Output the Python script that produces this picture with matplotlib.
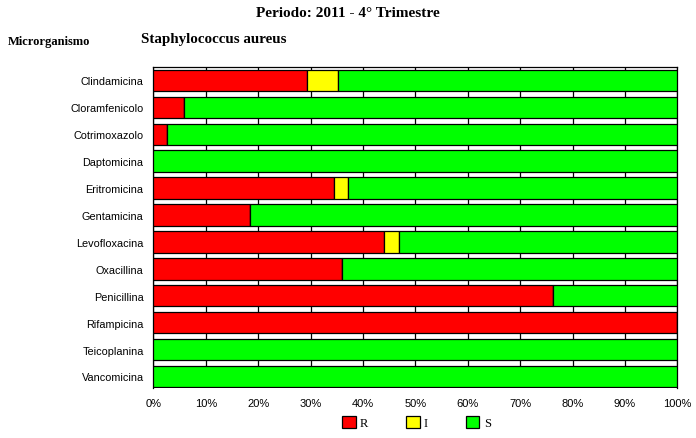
import numpy as np
import matplotlib.pyplot as plt

# antibiotics, top to bottom
farmacos = ['Clindamicina', 'Cloramfenicolo', 'Cotrimoxazolo', 'Daptomicina',
            'Eritromicina', 'Gentamicina', 'Levofloxacina', 'Oxacillina',
            'Penicillina', 'Rifampicina', 'Teicoplanina', 'Vancomicina']
# percentages
res_R = [29.4, 5.8, 2.6, 0.0, 34.4, 18.5, 44.1, 36.1, 76.2, 100.0, 0.0, 0.0]
res_I = [5.9, 0.0, 0.0, 0.0, 2.8, 0.0, 2.7, 0.0, 0.0, 0.0, 0.0, 0.0]
res_S = [64.7, 94.2, 97.4, 100.0, 62.8, 81.5, 53.2, 63.9, 23.8, 0.0, 100.0, 100.0]
x_ticks = np.arange(0, 101, 10)

fig = plt.figure(figsize=(6.96, 4.39), dpi=100)
ax = fig.add_axes([0.2203, 0.1139, 0.7529, 0.7319])

y = np.arange(len(farmacos))
R = np.array(res_R)
I = np.array(res_I)
S = np.array(res_S)

kw = dict(height=0.8, edgecolor='black', linewidth=0.9, zorder=3)
bR = ax.barh(y, R, color='#ff0000', label='R', **kw)
bI = ax.barh(y, I, left=R, color='#ffff00', label='I', **kw)
bS = ax.barh(y, S, left=R + I, color='#00ff00', label='S', **kw)

ax.set_xlim(0, 100)
ax.set_ylim(11.43, -0.513)

ax.set_yticks(y)
ax.set_yticklabels(farmacos, family='Liberation Sans', fontsize=7.8)
ax.set_xticks(x_ticks)
ax.set_xticklabels(['%d%%' % v for v in x_ticks], family='Liberation Sans', fontsize=8)
ax.tick_params(length=0, pad=7)
ax.tick_params(axis='y', pad=7)

# vertical grid shows only in the gaps between bars
ax.xaxis.grid(True, color='black', linewidth=0.9, zorder=0)
ax.set_axisbelow(True)
for s in ax.spines.values():
    s.set_linewidth(0.9)
ax.spines['bottom'].set_visible(False)

fig.text(0.5, 0.984, 'Periodo: 2011 - 4\u00b0 Trimestre', ha='center', va='top',
         family='Liberation Serif', fontweight='bold', fontsize=11)
fig.text(0.011, 0.904, 'Microrganismo', ha='left', va='center',
         family='Liberation Serif', fontweight='bold', fontsize=9)
fig.text(0.202, 0.909, 'Staphylococcus aureus', ha='left', va='center',
         family='Liberation Serif', fontweight='bold', fontsize=10.8)

fig.legend(handles=[bR, bI, bS], loc='center', bbox_to_anchor=(0.598, 0.035),
           ncol=3, frameon=False, handlelength=1.1, handleheight=1.1,
           handletextpad=0.35, columnspacing=3.0,
           prop={'family': 'Liberation Serif', 'size': 9})

fig.savefig('out.png', dpi=100)
